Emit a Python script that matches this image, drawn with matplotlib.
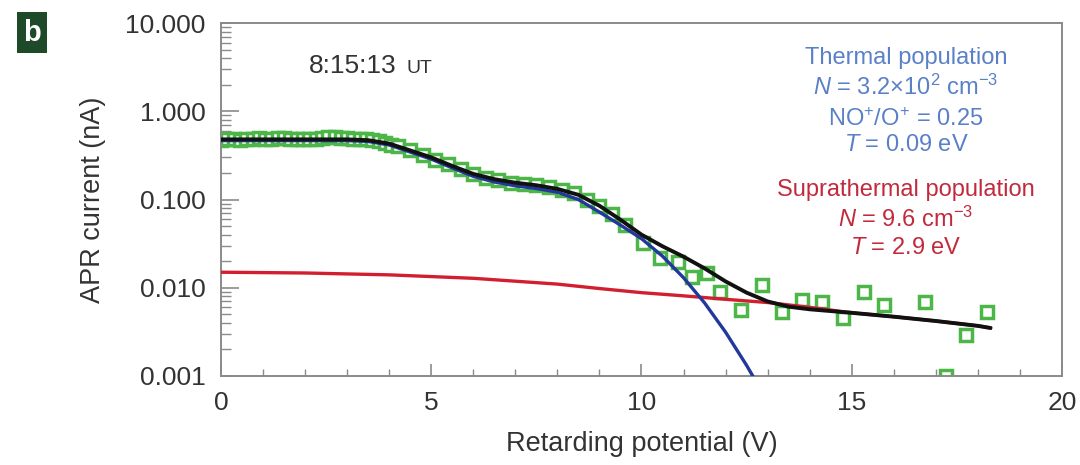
import matplotlib
matplotlib.use("Agg")
import matplotlib.pyplot as plt
from matplotlib.ticker import FixedLocator, LogLocator, NullFormatter

FAM = ['Liberation Sans', 'DejaVu Sans']
plt.rcParams['font.family'] = FAM
plt.rcParams['mathtext.fontset'] = 'custom'
plt.rcParams['mathtext.rm'] = 'Liberation Sans'
plt.rcParams['mathtext.it'] = 'Liberation Sans:italic'

# ---- measured data (green squares) ----
data_v = [0.0, 0.15, 0.3, 0.45, 0.6, 0.75, 0.9, 1.05, 1.2, 1.35, 1.5, 1.65,
          1.8, 1.95, 2.1, 2.25, 2.4, 2.55, 2.7, 2.85, 3.0, 3.15, 3.3, 3.45,
          3.6, 3.75, 3.9, 4.05, 4.2, 4.5, 4.8, 5.1, 5.4, 5.7, 6.0, 6.3, 6.6,
          6.9, 7.2, 7.5, 7.8, 8.1, 8.4, 8.7, 9.0, 9.3, 9.6, 10.04, 10.44,
          10.87, 11.2, 11.56, 11.87, 12.37, 12.87, 13.34, 13.82, 14.29, 14.79,
          15.29, 15.77, 16.74, 17.24, 17.72, 18.22]
data_i = [0.47, 0.48, 0.49, 0.47, 0.48, 0.49, 0.50, 0.48, 0.49, 0.50, 0.50,
          0.49, 0.49, 0.48, 0.48, 0.49, 0.50, 0.51, 0.51, 0.50, 0.50, 0.49,
          0.49, 0.48, 0.47, 0.46, 0.44, 0.42, 0.40, 0.36, 0.32, 0.28, 0.25,
          0.22, 0.195, 0.175, 0.165, 0.155, 0.150, 0.145, 0.138, 0.128, 0.118,
          0.100, 0.085, 0.068, 0.052, 0.0321, 0.0217, 0.0196, 0.0132, 0.0147,
          0.00895, 0.0056, 0.01075, 0.00531, 0.00726, 0.00689, 0.00454,
          0.00895, 0.00638, 0.00689, 0.0010, 0.00292, 0.00531]

# ---- total fit (black) ----
fit_v = [0, 1, 2, 3, 3.5, 4, 4.5, 5, 5.5, 6, 6.5, 7, 7.5, 8, 8.5, 9, 9.5,
         10, 10.5, 11, 11.5, 12, 12.5, 13, 13.5, 14, 15, 16, 17, 18, 18.3]
fit_i = [0.48, 0.48, 0.48, 0.48, 0.47, 0.43, 0.36, 0.30, 0.24, 0.195, 0.170,
         0.155, 0.145, 0.132, 0.113, 0.085, 0.059, 0.040, 0.0295, 0.0225,
         0.0166, 0.0118, 0.0088, 0.0070, 0.0061, 0.0057, 0.0052, 0.0047,
         0.0042, 0.0037, 0.0035]

# ---- thermal population (blue) ----
th_v = [0, 1, 2, 3, 3.5, 4, 4.5, 5, 5.5, 6, 6.5, 7, 7.5, 8, 8.5, 9, 9.5,
        10, 10.5, 11, 11.5, 12, 12.5, 12.8]
th_i = [0.465, 0.465, 0.465, 0.465, 0.455, 0.415, 0.345, 0.287, 0.228, 0.183,
        0.158, 0.143, 0.133, 0.121, 0.100, 0.072, 0.0513, 0.036, 0.0228,
        0.0130, 0.00674, 0.00314, 0.00132, 0.00075]

# ---- suprathermal population (red) ----
sp_v = [0, 2, 4, 6, 8, 9, 10, 11, 12, 13, 14, 15, 16, 17, 18, 18.3]
sp_i = [0.0150, 0.0147, 0.0140, 0.0128, 0.0110, 0.0098, 0.0088, 0.0081,
        0.0074, 0.0068, 0.0060, 0.0052, 0.0047, 0.0042, 0.0037, 0.0035]

y_ticks = [0.001, 0.01, 0.1, 1.0, 10.0]
y_labels = ['0.001', '0.010', '0.100', '1.000', '10.000']
x_ticks = [0, 5, 10, 15, 20]

GREEN = '#4cb648'
BLUE_LINE = '#23389c'
RED_LINE = '#d21f2f'
BLUE_TXT = '#5a80c8'
RED_TXT = '#c22a3c'
GREY = '#8a8a8a'
TXT = '#333333'

fig = plt.figure(figsize=(10.8, 4.65), dpi=100)
ax = fig.add_axes([0.2046, 0.1914, 0.9833 - 0.2046, 0.9505 - 0.1914])
ax.set_yscale('log')
ax.set_xlim(0, 20)
ax.set_ylim(0.001, 10)

ax.plot(data_v, data_i, 's', ms=8.3, mfc='white', mec=GREEN, mew=2.5, zorder=2)
ax.plot(sp_v, sp_i, '-', color=RED_LINE, lw=2.4, zorder=3)
ax.plot(th_v, th_i, '-', color=BLUE_LINE, lw=2.4, zorder=4)
ax.plot(fit_v, fit_i, '-', color='#111111', lw=2.8, zorder=5,
        solid_capstyle='round', solid_joinstyle='round')

ax.yaxis.set_major_locator(FixedLocator(y_ticks))
ax.set_yticklabels(y_labels)
ax.yaxis.set_minor_locator(LogLocator(base=10, subs=range(2, 10)))
ax.yaxis.set_minor_formatter(NullFormatter())
ax.xaxis.set_major_locator(FixedLocator(x_ticks))
ax.xaxis.set_minor_locator(FixedLocator(range(0, 21)))

ax.tick_params(axis='both', which='both', direction='in', colors=GREY,
               labelcolor=TXT, labelsize=19, top=False, right=False)
ax.tick_params(axis='y', which='major', length=13, width=1.2, pad=11)
ax.tick_params(axis='y', which='minor', length=7, width=1.0)
ax.tick_params(axis='x', which='major', length=9, width=1.2, pad=11)
ax.tick_params(axis='x', which='minor', length=5, width=1.0)
for s in ax.spines.values():
    s.set_color(GREY)
    s.set_linewidth(1.4)

ax.set_ylabel('APR current (nA)', fontsize=19.5, color=TXT, labelpad=14)
ax.set_xlabel('Retarding potential (V)', fontsize=19.5, color=TXT, labelpad=11)

# panel letter
fig.text(0.0296, 0.930, 'b', fontsize=21, fontweight='bold', color='white',
         ha='center', va='center',
         bbox=dict(boxstyle='square,pad=0.22', fc='#1e4a2a', ec='none'))

# time stamp
t1 = ax.text(0.104, 0.878, '8:15:13', transform=ax.transAxes, fontsize=19,
             color=TXT, ha='left', va='center')
fig.canvas.draw()
bb = t1.get_window_extent()
x_ut = bb.x1 + 10
y_c = (bb.y0 + bb.y1) / 2
fig.text(x_ut / fig.bbox.width, y_c / fig.bbox.height - 0.005, 'UT',
         fontsize=14, color=TXT, ha='left', va='center')

# annotations
xc = 906 / 1080
fig.text(xc, 1 - 58 / 465, 'Thermal population', color=BLUE_TXT, fontsize=17,
         ha='center', va='center')
fig.text(xc, 1 - 87 / 465, r'$\mathit{N}$ = 3.2×10$^{2}$ cm$^{-3}$',
         color=BLUE_TXT, fontsize=17, ha='center', va='center')
fig.text(xc, 1 - 120 / 465, r'NO$^{+}$/O$^{+}$ = 0.25', color=BLUE_TXT,
         fontsize=17, ha='center', va='center')
fig.text(xc, 1 - 145 / 465, r'$\mathit{T}$ = 0.09 eV', color=BLUE_TXT,
         fontsize=17, ha='center', va='center')

fig.text(xc, 1 - 190 / 465, 'Suprathermal population', color=RED_TXT,
         fontsize=17, ha='center', va='center')
fig.text(xc, 1 - 219 / 465, r'$\mathit{N}$ = 9.6 cm$^{-3}$', color=RED_TXT,
         fontsize=17, ha='center', va='center')
fig.text(xc, 1 - 248 / 465, r'$\mathit{T}$ = 2.9 eV', color=RED_TXT,
         fontsize=17, ha='center', va='center')

fig.savefig('out.png', dpi=100)
